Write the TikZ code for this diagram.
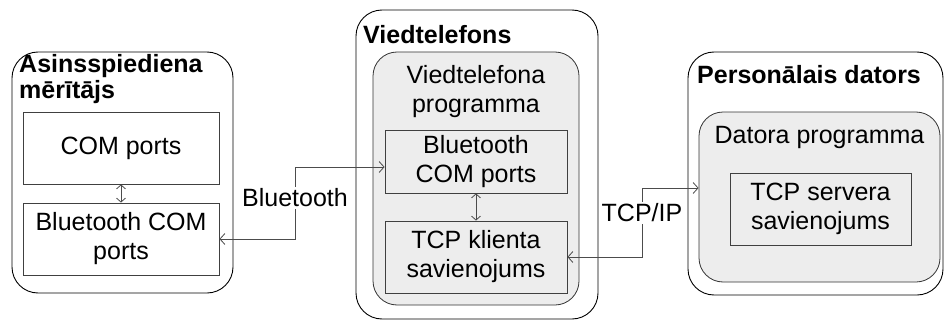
\documentclass[tikz,border=0pt]{standalone}
\usepackage{fontspec}
\setmainfont{Liberation Sans}
\usepackage{tikz}
\usetikzlibrary{arrows.meta,positioning,calc}
\newcommand\boxfont{\fontsize{25}{29}\selectfont}
\newcommand\titlefont{\bfseries\fontsize{25}{26}\selectfont}
\tikzset{
  devicebox/.style={draw=black,line width=0.9pt,rounded corners=26pt,inner sep=0pt},
  progbox/.style={draw=black!80,fill=black!7,line width=0.8pt,rounded corners=24pt,inner sep=0pt},
  portbox/.style={draw=black!75,line width=0.8pt,align=center,inner sep=0pt,font=\boxfont},
  devicetitle/.style={anchor=north west,inner sep=0pt,align=left,font=\titlefont},
  progtitle/.style={anchor=north,inner sep=0pt,align=center,font=\boxfont},
  linkarrow/.style={draw=black!70,line width=0.8pt,-{Straight Barb[length=5pt,width=11pt]}},
  portarrow/.style={draw=black!70,line width=0.8pt,
    {Straight Barb[length=4pt,width=9pt]}-{Straight Barb[length=4pt,width=9pt]}},
  linklabel/.style={font=\boxfont,inner sep=2pt}
}
\begin{document}
\begin{tikzpicture}[x=1pt,y=-1pt]
  \useasboundingbox (0,0) rectangle (945,321);
  % asinsspiediena meritajs
  \node[devicebox,minimum width=221pt,minimum height=241pt] (meter) at (122.5,172.5) {};
  \node[devicetitle] (meterTitle) at (19,54) {Asinsspiediena\\mērītājs};
  \node[portbox,minimum width=196pt,minimum height=72pt] (mCom) at (121,148) {COM ports};
  \node[portbox,minimum width=196pt,minimum height=72pt] (mBt) at (121,239) {Bluetooth COM\\ports};
  \draw[portarrow] (mCom) -- (mBt);
  % viedtelefons
  \node[devicebox,minimum width=242pt,minimum height=309pt] (phone) at (477,164.5) {};
  \node[devicetitle] (phoneTitle) at (363,25) {Viedtelefons};
  \node[progbox,minimum width=206pt,minimum height=253pt] (phProg) at (476,178.5) {};
  \node[progtitle] (phProgTitle) at (476,65) {Viedtelefona\\programma};
  \node[portbox,minimum width=182pt,minimum height=63pt] (phBt) at (476,161.5) {Bluetooth\\COM ports};
  \node[portbox,minimum width=182pt,minimum height=72pt] (phTcp) at (476,257) {TCP klienta\\savienojums};
  \draw[portarrow] (phBt) -- (phTcp);
  % personalais dators
  \node[devicebox,minimum width=255pt,minimum height=243pt] (pc) at (815.5,173.5) {};
  \node[devicetitle] (pcTitle) at (697,65) {Personālais dators};
  \node[progbox,minimum width=241pt,minimum height=170pt] (pcProg) at (819.5,197) {};
  \node[progtitle] (pcProgTitle) at (819.5,126) {Datora programma};
  \node[portbox,minimum width=181pt,minimum height=72pt] (pcTcp) at (820.5,209) {TCP servera\\savienojums};
  % savienojumi
  \node[linklabel] (btLabel) at (295,198) {Bluetooth};
  \draw[linkarrow] (btLabel.north) |- ([yshift=-5.5pt]phBt.west);
  \draw[linkarrow] (btLabel.south) |- (mBt.east);
  \node[linklabel] (tcpLabel) at (642,213) {TCP/IP};
  \draw[linkarrow] (tcpLabel.north) |- ([yshift=9pt]pcProg.west);
  \draw[linkarrow] (tcpLabel.south) |- (phTcp.east);
\end{tikzpicture}
\end{document}
